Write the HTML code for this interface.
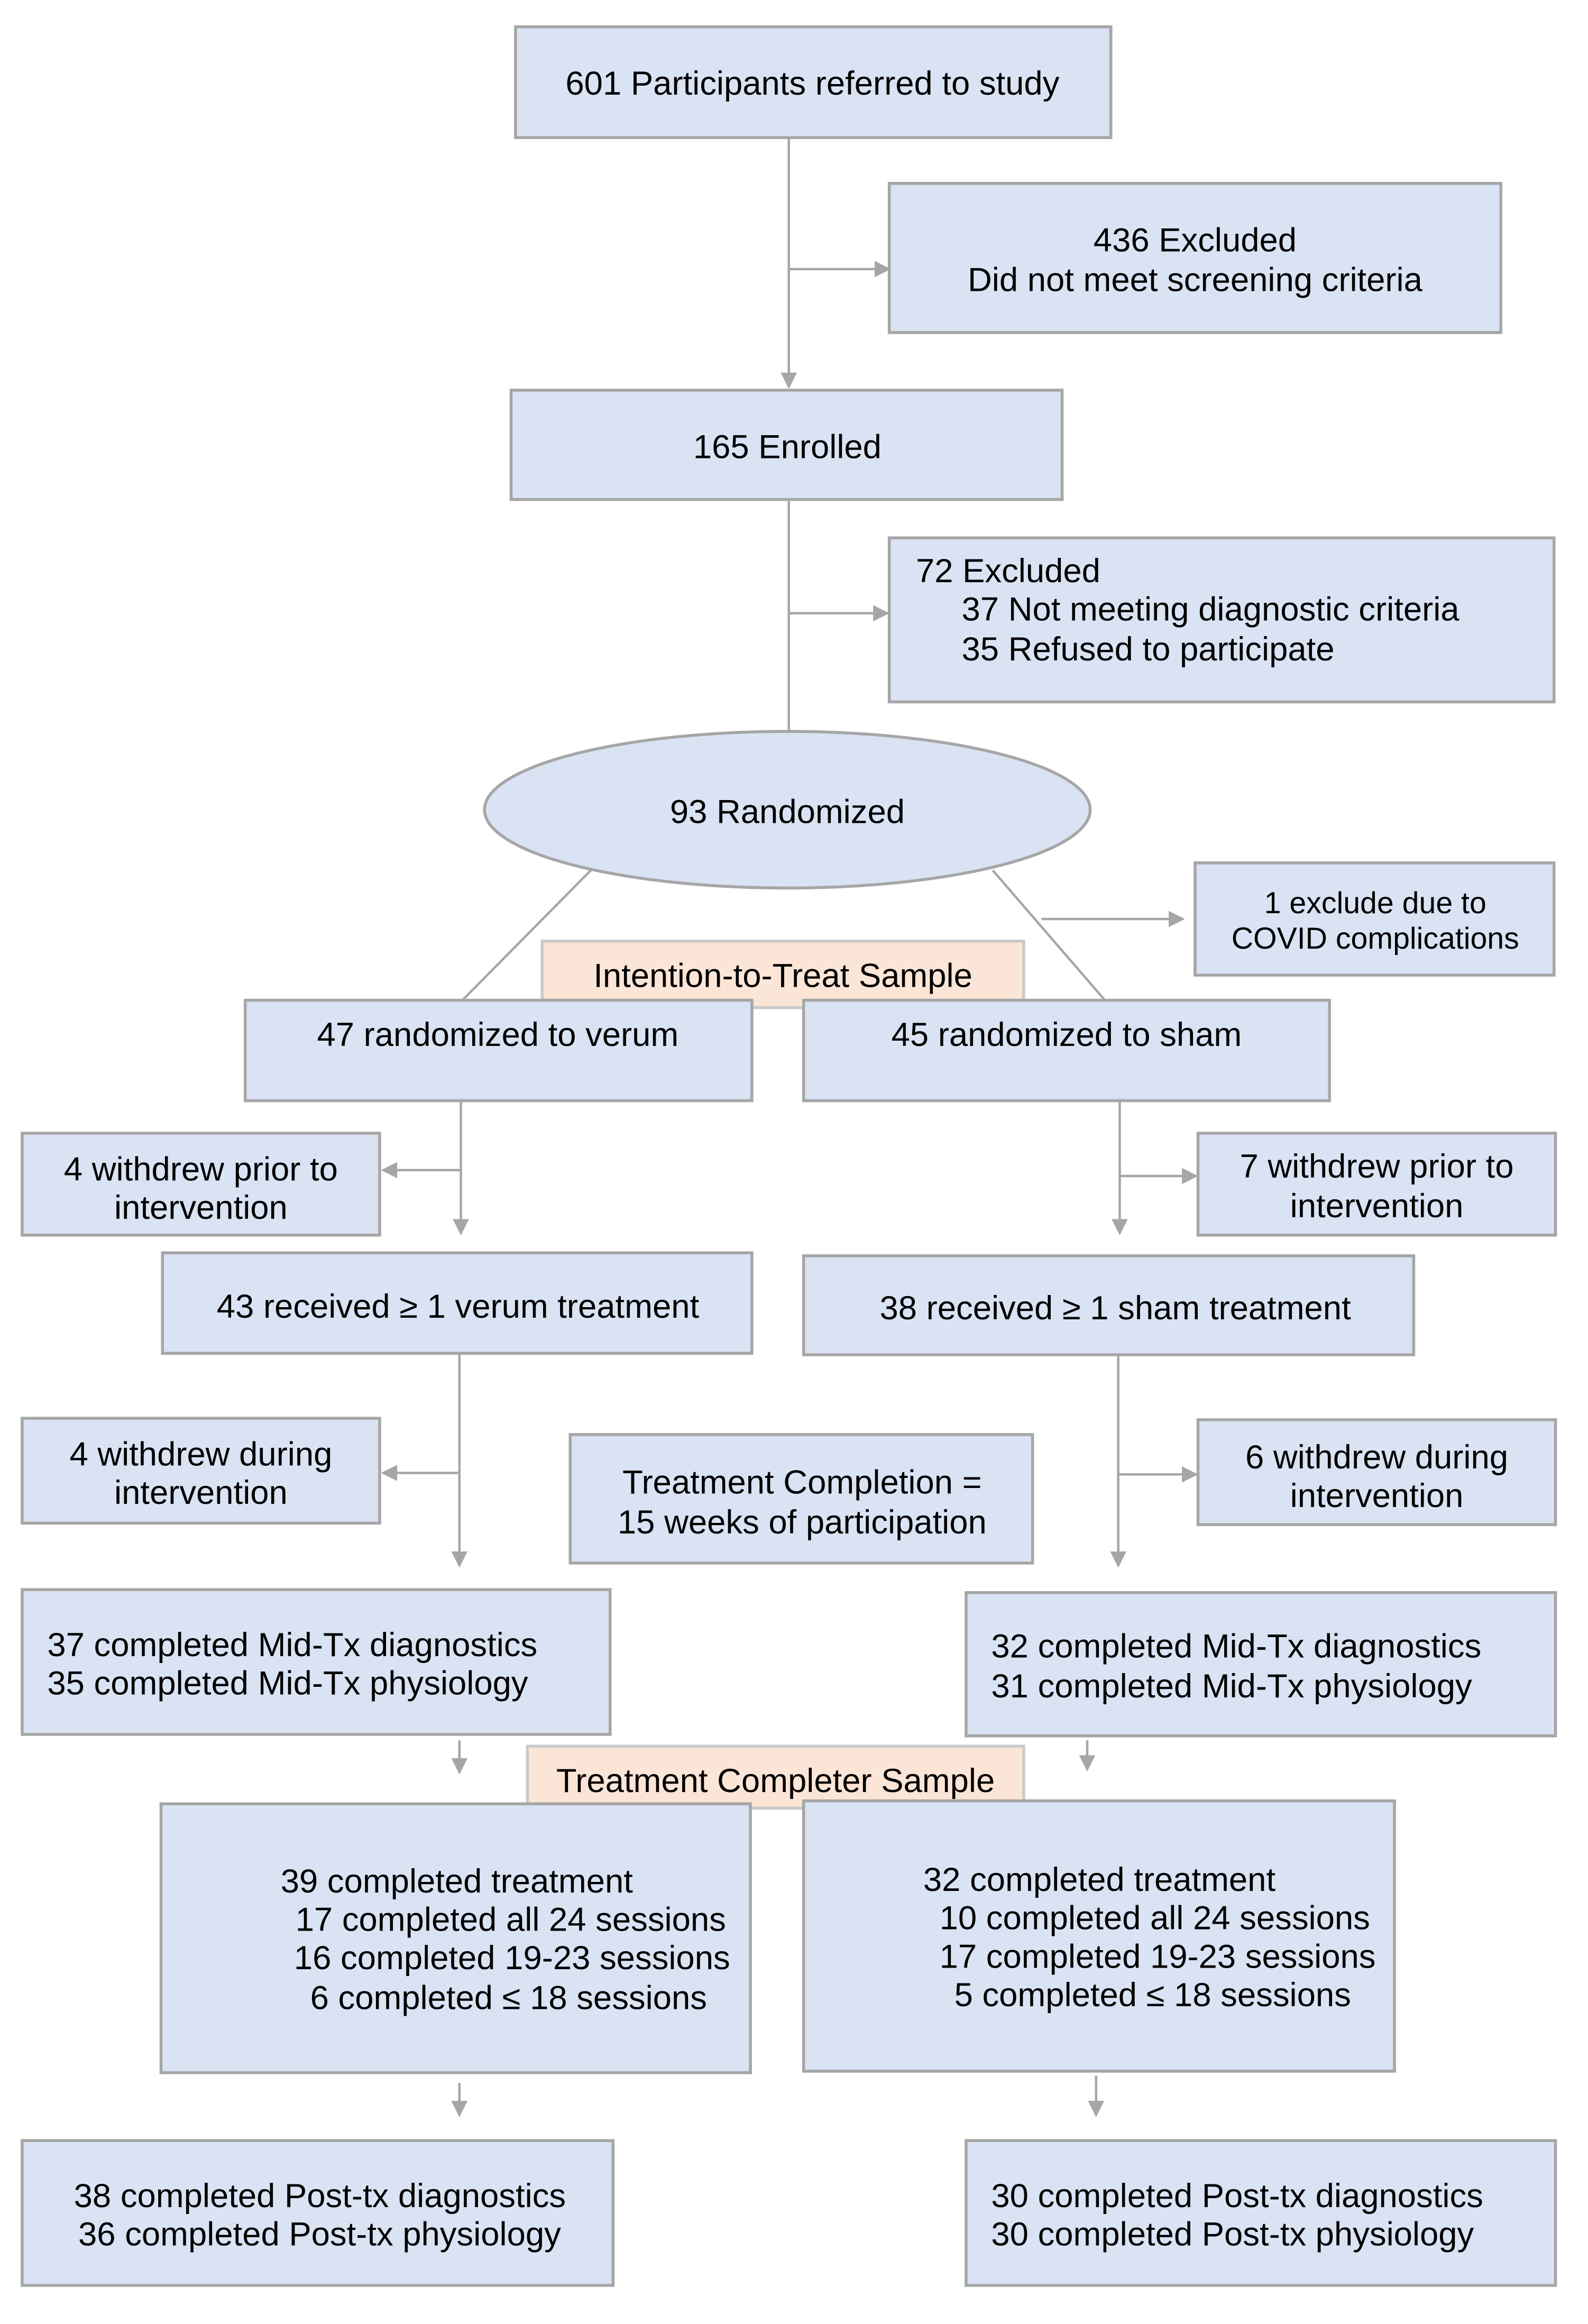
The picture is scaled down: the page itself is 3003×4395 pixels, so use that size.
<!DOCTYPE html>
<html><head><meta charset="utf-8"><style>
html,body{margin:0;padding:0;background:#fff}
svg{display:block}
text{font-family:"Liberation Sans",Arial,sans-serif;font-size:22.7px;fill:#000}
.b{fill:#dae3f3;stroke:#a6a6a6;stroke-width:2}
.p{fill:#fbe5d6;stroke:#c9c9c9;stroke-width:2}
.l{stroke:#a6a6a6;stroke-width:1.6;fill:none}
</style></head><body>
<svg width="3003" height="4395" viewBox="0 0 1075 1573" xmlns="http://www.w3.org/2000/svg">
<defs><marker id="a" viewBox="0 0 10 10" refX="9" refY="5" markerWidth="11" markerHeight="11" orient="auto" markerUnits="userSpaceOnUse"><path d="M0,0L10,5L0,10z" fill="#a6a6a6"/></marker></defs>
<g text-anchor="middle">
<rect class="b" x="349" y="18" width="403" height="75"/>
<text x="550" y="64">601 Participants referred to study</text>
<line class="l" x1="534" y1="93" x2="534" y2="262" marker-end="url(#a)"/>
<line class="l" x1="534" y1="182" x2="602" y2="182" marker-end="url(#a)"/>
<rect class="b" x="602" y="124" width="414" height="101"/>
<text x="809" y="170">436 Excluded</text>
<text x="809" y="197">Did not meet screening criteria</text>
<rect class="b" x="346" y="264" width="373" height="74"/>
<text x="533" y="310">165 Enrolled</text>
<line class="l" x1="534" y1="338" x2="534" y2="496"/>
<line class="l" x1="534" y1="415" x2="601" y2="415" marker-end="url(#a)"/>
<rect class="b" x="602" y="364" width="450" height="111"/>
</g>
<text x="620" y="394">72 Excluded</text>
<text x="651" y="420">37 Not meeting diagnostic criteria</text>
<text x="651" y="447">35 Refused to participate</text>
<g text-anchor="middle">
<ellipse class="b" cx="533" cy="548" rx="205" ry="53"/>
<text x="533" y="557">93 Randomized</text>
<line class="l" x1="400" y1="589" x2="313" y2="677"/>
<line class="l" x1="672" y1="589" x2="748" y2="677"/>
<line class="l" x1="705" y1="622" x2="801" y2="622" marker-end="url(#a)"/>
<rect class="b" x="809" y="584" width="243" height="76"/>
<text x="931" y="618" style="font-size:20.5px">1 exclude due to</text>
<text x="931" y="642" style="font-size:20.5px">COVID complications</text>
<rect class="p" x="367" y="637" width="326" height="45"/>
<text x="530" y="668">Intention-to-Treat Sample</text>
<rect class="b" x="166" y="677" width="343" height="68"/>
<text x="337" y="708">47 randomized to verum</text>
<rect class="b" x="544" y="677" width="356" height="68"/>
<text x="722" y="708">45 randomized to sham</text>
<line class="l" x1="312" y1="745" x2="312" y2="835" marker-end="url(#a)"/>
<line class="l" x1="312" y1="792" x2="259" y2="792" marker-end="url(#a)"/>
<rect class="b" x="15" y="767" width="242" height="69"/>
<text x="136" y="799">4 withdrew prior to</text>
<text x="136" y="825">intervention</text>
<line class="l" x1="758" y1="745" x2="758" y2="835" marker-end="url(#a)"/>
<line class="l" x1="758" y1="796" x2="810" y2="796" marker-end="url(#a)"/>
<rect class="b" x="811" y="767" width="242" height="69"/>
<text x="932" y="797">7 withdrew prior to</text>
<text x="932" y="824">intervention</text>
<rect class="b" x="110" y="848" width="399" height="68"/>
<text x="310" y="892">43 received ≥ 1 verum treatment</text>
<rect class="b" x="544" y="850" width="413" height="67"/>
<text x="755" y="893">38 received ≥ 1 sham treatment</text>
<line class="l" x1="311" y1="916" x2="311" y2="1060" marker-end="url(#a)"/>
<line class="l" x1="311" y1="997" x2="259" y2="997" marker-end="url(#a)"/>
<rect class="b" x="15" y="960" width="242" height="71"/>
<text x="136" y="992">4 withdrew during</text>
<text x="136" y="1018">intervention</text>
<line class="l" x1="757" y1="917" x2="757" y2="1060" marker-end="url(#a)"/>
<line class="l" x1="757" y1="998" x2="810" y2="998" marker-end="url(#a)"/>
<rect class="b" x="811" y="961" width="242" height="71"/>
<text x="932" y="994">6 withdrew during</text>
<text x="932" y="1020">intervention</text>
<rect class="b" x="386" y="971" width="313" height="87"/>
<text x="543" y="1011">Treatment Completion =</text>
<text x="543" y="1038">15 weeks of participation</text>
<rect class="b" x="15" y="1076" width="398" height="98"/>
<rect class="b" x="654" y="1078" width="399" height="97"/>
</g>
<text x="32" y="1121">37 completed Mid-Tx diagnostics</text>
<text x="32" y="1147">35 completed Mid-Tx physiology</text>
<text x="671" y="1122">32 completed Mid-Tx diagnostics</text>
<text x="671" y="1149">31 completed Mid-Tx physiology</text>
<g text-anchor="middle">
<line class="l" x1="311" y1="1178" x2="311" y2="1200" marker-end="url(#a)"/>
<line class="l" x1="736" y1="1178" x2="736" y2="1198" marker-end="url(#a)"/>
<rect class="p" x="357" y="1182" width="336" height="42"/>
<text x="525" y="1213">Treatment Completer Sample</text>
<rect class="b" x="109" y="1221" width="399" height="182"/>
<rect class="b" x="544" y="1219" width="400" height="183"/>
</g>
<text x="190" y="1281">39 completed treatment</text>
<text x="200" y="1307">17 completed all 24 sessions</text>
<text x="199" y="1333">16 completed 19-23 sessions</text>
<text x="210" y="1360">6 completed ≤ 18 sessions</text>
<text x="625" y="1280">32 completed treatment</text>
<text x="636" y="1306">10 completed all 24 sessions</text>
<text x="636" y="1332">17 completed 19-23 sessions</text>
<text x="646" y="1358">5 completed ≤ 18 sessions</text>
<line class="l" x1="311" y1="1410" x2="311" y2="1432" marker-end="url(#a)"/>
<line class="l" x1="742" y1="1405" x2="742" y2="1432" marker-end="url(#a)"/>
<rect class="b" x="15" y="1449" width="400" height="98"/>
<rect class="b" x="654" y="1449" width="399" height="98"/>
<text x="50" y="1494">38 completed Post-tx diagnostics</text>
<text x="53" y="1520">36 completed Post-tx physiology</text>
<text x="671" y="1494">30 completed Post-tx diagnostics</text>
<text x="671" y="1520">30 completed Post-tx physiology</text>
</svg>
</body></html>
